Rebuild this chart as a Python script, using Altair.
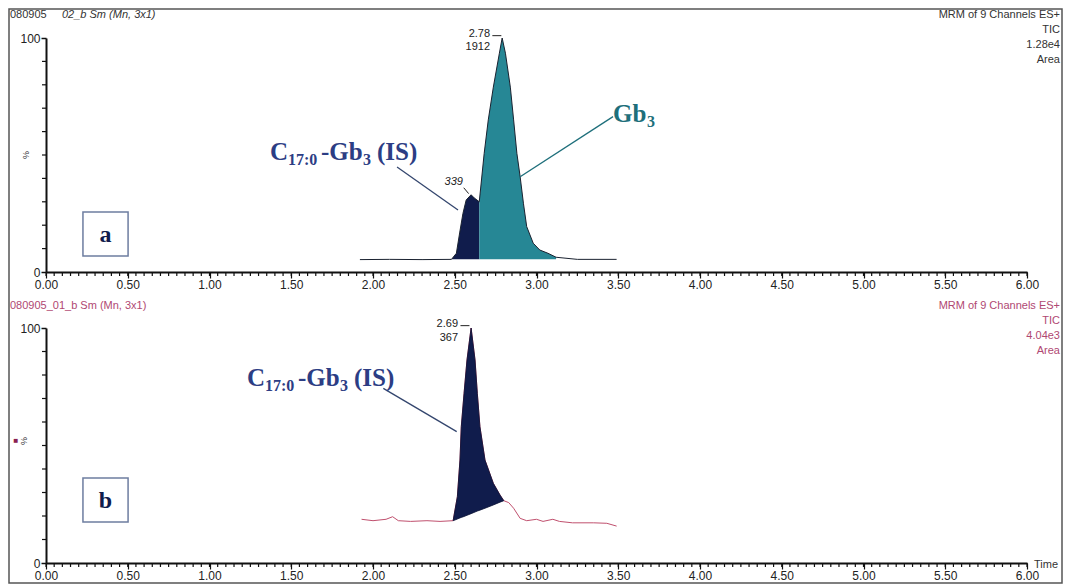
import altair as alt
import pandas as pd

# ---------------- data ----------------
TOP_TIME = [1.92, 2.10, 2.30, 2.48, 2.51, 2.53, 2.55, 2.57, 2.60, 2.62, 2.65, 2.68, 2.705, 2.736,
            2.773, 2.79, 2.81, 2.84, 2.86, 2.88, 2.90, 2.92, 2.94, 2.98, 3.02, 3.07, 3.12, 3.25, 3.49]
TOP_PCT = [5.3, 5.4, 5.3, 5.4, 8.0, 16.7, 25.0, 30.8, 33.0, 31.6, 30.0, 50.7, 65.0, 79.0,
           93.5, 100.0, 93.5, 79.0, 65.0, 50.7, 40.7, 29.4, 19.4, 12.3, 9.4, 8.0, 6.3, 5.4, 5.4]
TOP_BASELINE = 5.4
TOP_IS_RANGE = (2.48, 2.65)
TOP_GB3_RANGE = (2.65, 3.12)

BOT_TIME = [1.93, 2.00, 2.08, 2.12, 2.155, 2.23, 2.33, 2.41, 2.49, 2.516, 2.532, 2.54, 2.557, 2.575,
            2.60, 2.624, 2.638, 2.654, 2.685, 2.736, 2.777, 2.80, 2.83, 2.86, 2.90, 2.94, 3.00, 3.04,
            3.10, 3.14, 3.22, 3.35, 3.43, 3.49]
BOT_PCT = [18.6, 18.0, 18.6, 19.7, 18.0, 17.7, 18.0, 17.7, 18.0, 28.2, 43.8, 58.0, 72.2, 86.4,
           100.0, 86.4, 72.2, 58.0, 43.8, 33.9, 28.9, 26.5, 25.7, 23.3, 19.0, 18.0, 18.6, 17.7,
           18.6, 17.7, 17.1, 17.1, 16.9, 15.7]
BOT_IS_RANGE = (2.49, 2.80)
BOT_FILL_BASE = [18.0, 18.7, 19.2, 19.4, 19.8, 20.3, 21.0, 21.7, 22.1, 22.5, 23.3, 24.7, 25.9, 26.5]

MAJOR_X = [0.0, 0.5, 1.0, 1.5, 2.0, 2.5, 3.0, 3.5, 4.0, 4.5, 5.0, 5.5, 6.0]
MINOR_X = [round(i * 0.05, 2) for i in range(121)]
Y_LABELS = [0, 100]
MINOR_Y = [10, 20, 30, 40, 50, 60, 70, 80, 90]

TOP_HEADER_LEFT = ["080905", "02_b Sm (Mn, 3x1)"]
TOP_HEADER_RIGHT = ["MRM of 9 Channels ES+", "TIC", "1.28e4", "Area"]
BOT_HEADER_LEFT = "080905_01_b Sm (Mn, 3x1)"
BOT_HEADER_RIGHT = ["MRM of 9 Channels ES+", "TIC", "4.04e3", "Area"]

TOP_PEAK_LABEL = ["2.78", "1912"]
TOP_IS_PEAK_LABEL = "339"
BOT_PEAK_LABEL = ["2.69", "367"]

IS_LABEL = ["C", "17:0", "-Gb", "3", "(IS)"]
GB3_LABEL = ["Gb", "3"]

# ---------------- style ----------------
W, H_TOP, H_BOT = 981, 234, 235
SANS = "Liberation Sans"
SERIF = "Liberation Serif"
NAVY_FILL = "#101c4c"
TEAL_FILL = "#268795"
NAVY_TEXT = "#2c3d84"
TEAL_TEXT = "#1e6f7b"
PINK = "#c0506e"
HEADER_PINK = "#b04872"
BOX = "#6d7da0"
AXIS_C = "#111111"

XS = alt.Scale(domain=[0, 6], nice=False, zero=False)
YS = alt.Scale(domain=[0, 100], nice=False, zero=True)
XAX = alt.Axis(values=MAJOR_X, format=".2f", tickSize=6, labelFontSize=12, labelFont=SANS,
               labelColor="#222222", domainColor=AXIS_C, domainWidth=1.8, tickColor=AXIS_C,
               tickWidth=1.2, labelPadding=1, labelFlush=False, grid=False, title=None)
YAX = alt.Axis(values=Y_LABELS, tickSize=5, labelFontSize=12, labelFont=SANS,
               labelColor="#222222", domainColor=AXIS_C, domainWidth=2, tickColor=AXIS_C,
               tickWidth=1.5, labelPadding=1, grid=False, title=None)


def xenc(f):
    return alt.X(f"{f}:Q", scale=XS, axis=XAX)


def yenc(f):
    return alt.Y(f"{f}:Q", scale=YS, axis=YAX)


def one(**kw):
    return pd.DataFrame({k: [v] for k, v in kw.items()})


def rich(t, p, texts, sizes, dxs, dys, color):
    layers = []
    for txt, s, dx, dy in zip(texts, sizes, dxs, dys):
        layers.append(
            alt.Chart(one(t=t, p=p)).mark_text(
                text=txt, align="left", baseline="alphabetic", font=SERIF, fontWeight="bold",
                fontSize=s, color=color, dx=dx, dy=dy
            ).encode(x=xenc("t"), y=yenc("p"))
        )
    return layers


def pixel_text(txt, x, y, color, align="left", size=11, style="normal"):
    return alt.Chart(one(s=txt)).mark_text(
        align=align, baseline="alphabetic", font=SANS, fontSize=size, color=color, fontStyle=style
    ).encode(x=alt.value(x), y=alt.value(y), text="s:N")


def axes_layers(h):
    minor_x = alt.Chart(pd.DataFrame({"t": MINOR_X})).mark_rule(color=AXIS_C, strokeWidth=1.2).encode(
        x=xenc("t"), y=alt.value(h), y2=alt.value(h + 4))
    minor_y = alt.Chart(pd.DataFrame({"p": MINOR_Y})).mark_rule(color=AXIS_C, strokeWidth=1.2).encode(
        y=yenc("p"), x=alt.value(-4), x2=alt.value(0))
    return [minor_x, minor_y]


def box(t1, t2, p1, p2, letter):
    r = alt.Chart(one(t=t1, t2=t2, p=p1, p2=p2)).mark_rect(
        filled=False, stroke=BOX, strokeWidth=1.5).encode(
        x=xenc("t"), x2="t2:Q", y=yenc("p"), y2="p2:Q")
    tx = alt.Chart(one(t=(t1 + t2) / 2, p=(p1 + p2) / 2)).mark_text(
        text=letter, font=SERIF, fontWeight="bold", fontSize=24, color=NAVY_FILL,
        align="center", baseline="middle", dy=1).encode(x=xenc("t"), y=yenc("p"))
    return [r, tx]


# ---------------- top panel ----------------
top_df = pd.DataFrame({"t": TOP_TIME, "p": TOP_PCT})
top_df["base"] = TOP_BASELINE
is_top = top_df[(top_df.t >= TOP_IS_RANGE[0]) & (top_df.t <= TOP_IS_RANGE[1])]
gb_top = top_df[(top_df.t >= TOP_GB3_RANGE[0]) & (top_df.t <= TOP_GB3_RANGE[1])]

top_layers = [
    alt.Chart(is_top).mark_area(color=NAVY_FILL, opacity=1).encode(x=xenc("t"), y=yenc("p"), y2="base:Q"),
    alt.Chart(gb_top).mark_area(color=TEAL_FILL, opacity=1).encode(x=xenc("t"), y=yenc("p"), y2="base:Q"),
    alt.Chart(top_df).mark_line(color="#1a2230", strokeWidth=1).encode(x=xenc("t"), y=yenc("p")),
]
top_layers += axes_layers(H_TOP)
# callout lines
top_layers.append(alt.Chart(one(t=2.147, p=44.9, t2=2.52, p2=26.5)).mark_rule(color="#34466e", strokeWidth=1.3)
                  .encode(x=xenc("t"), y=yenc("p"), x2="t2:Q", y2="p2:Q"))
top_layers.append(alt.Chart(one(t=3.468, p=66.4, t2=2.90, p2=40.7)).mark_rule(color=TEAL_TEXT, strokeWidth=1.3)
                  .encode(x=xenc("t"), y=yenc("p"), x2="t2:Q", y2="p2:Q"))
top_layers += rich(1.37, 47.9, IS_LABEL, [25, 16, 25, 16, 25], [0, 18, 51, 93, 107], [0, 5, 0, 5, 0], NAVY_TEXT)
top_layers += rich(3.468, 64.1, GB3_LABEL, [25, 16], [0, 34], [0, 5], TEAL_TEXT)
# peak labels
top_layers.append(alt.Chart(one(t=2.716, p=100.4, s=TOP_PEAK_LABEL[0])).mark_text(
    align="right", baseline="alphabetic", font=SANS, fontSize=11, color="#222").encode(x=xenc("t"), y=yenc("p"), text="s:N"))
top_layers.append(alt.Chart(one(t=2.716, p=94.9, s=TOP_PEAK_LABEL[1])).mark_text(
    align="right", baseline="alphabetic", font=SANS, fontSize=11, color="#222").encode(x=xenc("t"), y=yenc("p"), text="s:N"))
top_layers.append(alt.Chart(one(t=2.73, t2=2.785, p=101.0)).mark_rule(color="#222", strokeWidth=1)
                  .encode(x=xenc("t"), x2="t2:Q", y=yenc("p")))
top_layers.append(alt.Chart(one(t=2.55, p=37.2, s=TOP_IS_PEAK_LABEL)).mark_text(
    align="right", baseline="alphabetic", font=SANS, fontSize=11, fontStyle="italic", color="#222")
    .encode(x=xenc("t"), y=yenc("p"), text="s:N"))
top_layers.append(alt.Chart(one(t=2.555, p=36.0, t2=2.585, p2=33.5)).mark_rule(color="#222", strokeWidth=1)
                  .encode(x=xenc("t"), y=yenc("p"), x2="t2:Q", y2="p2:Q"))
top_layers += box(0.226, 0.502, 25.6, 6.8, "a")
# headers
top_layers.append(pixel_text(TOP_HEADER_LEFT[0], -36, -20, "#333333"))
top_layers.append(pixel_text(TOP_HEADER_LEFT[1], 16, -20, "#333333", style="italic"))
for i, s in enumerate(TOP_HEADER_RIGHT):
    top_layers.append(pixel_text(s, 1014, -20 + 15 * i, "#333333", align="right"))
top_layers.append(alt.Chart(one(s="%")).mark_text(font=SANS, fontSize=9, color="#333", angle=270)
                  .encode(x=alt.value(-20), y=alt.value(117), text="s:N"))
# page frame
top_layers.append(alt.Chart(one(s=1)).mark_rect(filled=False, stroke="#555555", strokeWidth=1.5)
                  .encode(x=alt.value(-37), x2=alt.value(1016), y=alt.value(-29), y2=alt.value(545)))

top = alt.layer(*top_layers).properties(width=W, height=H_TOP)

# ---------------- bottom panel ----------------
bot_df = pd.DataFrame({"t": BOT_TIME, "p": BOT_PCT})
is_bot = bot_df[(bot_df.t >= BOT_IS_RANGE[0]) & (bot_df.t <= BOT_IS_RANGE[1])].copy()
is_bot["base"] = BOT_FILL_BASE

bot_layers = [
    alt.Chart(bot_df).mark_line(color=PINK, strokeWidth=1).encode(x=xenc("t"), y=yenc("p")),
    alt.Chart(is_bot).mark_area(color=NAVY_FILL, opacity=1, stroke="#0a1235", strokeWidth=0.8)
    .encode(x=xenc("t"), y=yenc("p"), y2="base:Q"),
]
bot_layers += axes_layers(H_BOT)
bot_layers.append(alt.Chart(one(t=2.063, p=74.3, t2=2.512, p2=55.9)).mark_rule(color="#34466e", strokeWidth=1.3)
                  .encode(x=xenc("t"), y=yenc("p"), x2="t2:Q", y2="p2:Q"))
bot_layers += rich(1.229, 75.3, IS_LABEL, [25, 16, 25, 16, 25], [0, 18, 51, 93, 107], [0, 5, 0, 5, 0], NAVY_TEXT)
bot_layers.append(alt.Chart(one(t=2.52, p=100.6, s=BOT_PEAK_LABEL[0])).mark_text(
    align="right", baseline="alphabetic", font=SANS, fontSize=11, color="#222").encode(x=xenc("t"), y=yenc("p"), text="s:N"))
bot_layers.append(alt.Chart(one(t=2.52, p=94.6, s=BOT_PEAK_LABEL[1])).mark_text(
    align="right", baseline="alphabetic", font=SANS, fontSize=11, color="#222").encode(x=xenc("t"), y=yenc("p"), text="s:N"))
bot_layers.append(alt.Chart(one(t=2.535, t2=2.59, p=101.0)).mark_rule(color="#222", strokeWidth=1)
                  .encode(x=xenc("t"), x2="t2:Q", y=yenc("p")))
bot_layers += box(0.226, 0.502, 36.2, 17.4, "b")
bot_layers.append(pixel_text(BOT_HEADER_LEFT, -36, -19, HEADER_PINK))
for i, s in enumerate(BOT_HEADER_RIGHT):
    bot_layers.append(pixel_text(s, 1014, -19 + 15 * i, HEADER_PINK, align="right"))
bot_layers.append(pixel_text("Time", 988, 240, "#333333"))
bot_layers.append(alt.Chart(one(s="■")).mark_text(font=SANS, fontSize=8, color="#8a2050")
                  .encode(x=alt.value(-30), y=alt.value(113), text="s:N"))
bot_layers.append(alt.Chart(one(s="%")).mark_text(font=SANS, fontSize=9, color="#333", angle=270)
                  .encode(x=alt.value(-22), y=alt.value(113), text="s:N"))

bottom = alt.layer(*bot_layers).properties(width=W, height=H_BOT)

chart = alt.vconcat(top, bottom, spacing=56, bounds="flush").properties(
    padding=0,
    background="white",
).configure_view(stroke=None)

chart.save("out.html", embed_options={"renderer": "svg", "actions": False})
